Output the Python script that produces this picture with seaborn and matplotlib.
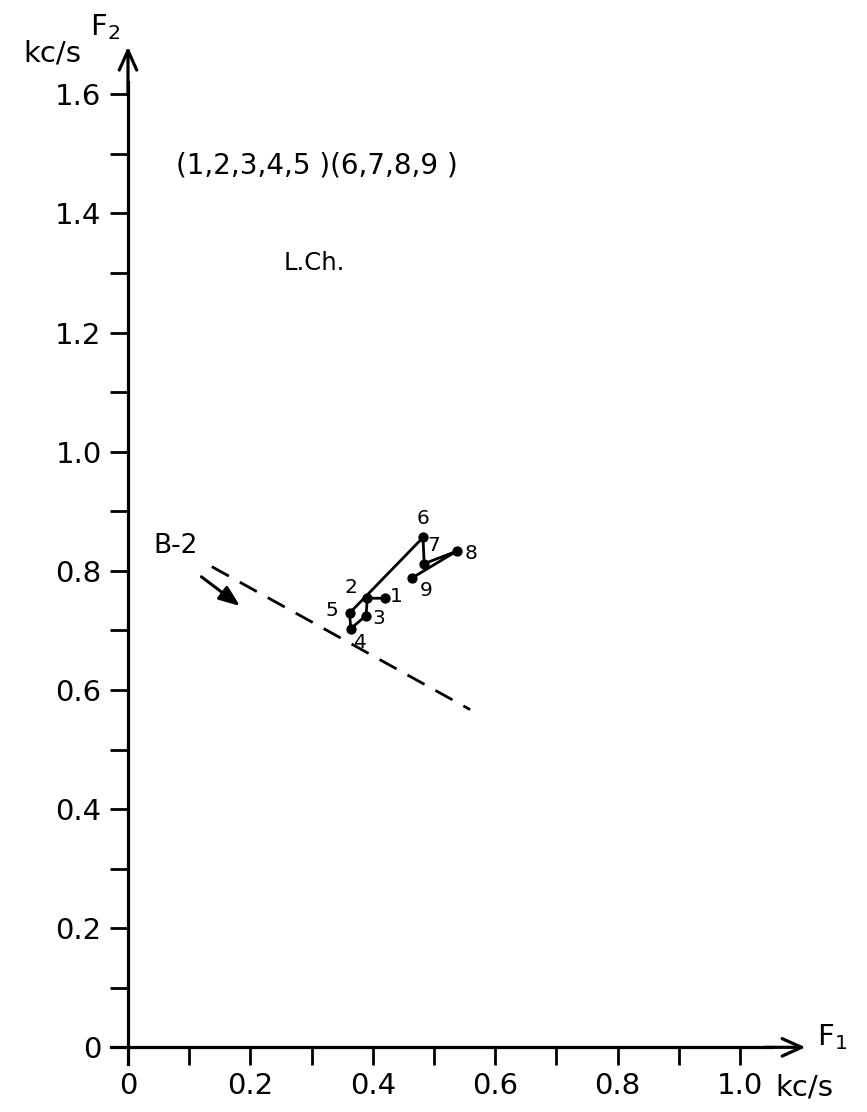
import matplotlib
matplotlib.use("Agg")
import matplotlib.pyplot as plt
import seaborn as sns
import pandas as pd
import numpy as np

# ---- data ----
point_ids = ["1", "2", "3", "4", "5", "6", "7", "8", "9"]
f1_values = [0.420, 0.391, 0.389, 0.364, 0.362, 0.482, 0.484, 0.537, 0.464]
f2_values = [0.754, 0.754, 0.725, 0.703, 0.729, 0.856, 0.812, 0.833, 0.788]
# label offsets (pixels) for point numbers
label_dx = [11, -16, 13, 10, -18, 0, 10, 14, 14]
label_dy = [2, 11, -3, -14, 3, 19, 18, -2, -13]

b2_line_f1 = [0.137, 0.559]
b2_line_f2 = [0.807, 0.567]
b2_arrow_start = (0.120, 0.790)
b2_arrow_end = (0.183, 0.741)

x_ticks = [0.0, 0.1, 0.2, 0.3, 0.4, 0.5, 0.6, 0.7, 0.8, 0.9, 1.0]
x_tick_labels = ["0", "", "0.2", "", "0.4", "", "0.6", "", "0.8", "", "1.0"]
y_ticks = [0.0, 0.1, 0.2, 0.3, 0.4, 0.5, 0.6, 0.7, 0.8, 0.9, 1.0, 1.1, 1.2, 1.3, 1.4, 1.5, 1.6]
y_tick_labels = ["0", "", "0.2", "", "0.4", "", "0.6", "", "0.8", "", "1.0", "", "1.2", "", "1.4", "", "1.6"]

df = pd.DataFrame({"id": point_ids, "F1": f1_values, "F2": f2_values})

sns.set_theme(style="white")
plt.rcParams["font.family"] = ["DejaVu Sans"]
plt.rcParams["text.color"] = "black"
plt.rcParams["xtick.color"] = "black"
plt.rcParams["ytick.color"] = "black"

fig = plt.figure(figsize=(8.67, 11.12), dpi=100)
ax = fig.add_axes([5.6 / 867, 5.1 / 1112, 856.8 / 867, 1101.9 / 1112])
ax.set_xlim(-0.2, 1.2)
ax.set_ylim(-0.1, 1.75)
ax.patch.set_alpha(0)

# trajectory
sns.lineplot(data=df, x="F1", y="F2", sort=False, estimator=None, ax=ax,
             color="black", linewidth=2.0)
sns.scatterplot(data=df, x="F1", y="F2", ax=ax, color="black", s=55,
                edgecolor="black", linewidth=0, zorder=5)
for pid, x, y, dx, dy in zip(point_ids, f1_values, f2_values, label_dx, label_dy):
    ax.annotate(pid, (x, y), xytext=(dx, dy), textcoords="offset pixels",
                ha="center", va="center", fontsize=14.5, color="black")

# B-2 dashed line and arrow
ax.plot(b2_line_f1, b2_line_f2, color="black", linewidth=2.0,
        linestyle=(0, (7, 4.5)))
ax.annotate("", xy=b2_arrow_end, xytext=b2_arrow_start,
            arrowprops=dict(arrowstyle="-|>,head_length=0.9,head_width=0.35",
                            color="black", lw=2.2, mutation_scale=14,
                            shrinkA=0, shrinkB=0))
ax.text(0.041, 0.841, "B-2", fontsize=19, ha="left", va="center")

# annotations
ax.text(0.308, 1.480, "(1,2,3,4,5 )(6,7,8,9 )", fontsize=20, ha="center",
        va="center")
ax.text(0.304, 1.317, "L.Ch.", fontsize=17.5, ha="center", va="center")

# axes
for s in ["top", "right"]:
    ax.spines[s].set_visible(False)
ax.spines["left"].set_position(("data", 0))
ax.spines["bottom"].set_position(("data", 0))
ax.spines["left"].set_bounds(-0.028, 1.62)
ax.spines["bottom"].set_bounds(-0.027, 1.05)
for s in ["left", "bottom"]:
    ax.spines[s].set_linewidth(2.3)
    ax.spines[s].set_color("black")

arrow_kw = dict(arrowstyle="->,head_length=1.0,head_width=0.45", color="black",
                lw=2.3, mutation_scale=14, shrinkA=0, shrinkB=0)
ax.annotate("", xy=(0, 1.68), xytext=(0, 1.6), arrowprops=arrow_kw)
ax.annotate("", xy=(1.107, 0), xytext=(1.04, 0), arrowprops=arrow_kw)

ax.set_xticks(x_ticks)
ax.set_xticklabels(x_tick_labels)
ax.set_yticks(y_ticks)
ax.set_yticklabels(y_tick_labels)
ax.tick_params(axis="both", which="major", direction="out", length=13, width=2.0,
               labelsize=21, color="black", labelcolor="black",
               bottom=True, left=True)
ax.tick_params(axis="x", pad=5)
ax.tick_params(axis="y", pad=6)
ax.set_xlabel("")
ax.set_ylabel("")

ax.text(1.057, -0.068, "kc/s", fontsize=21, ha="left", va="center")
ax.text(-0.124, 1.668, "kc/s", fontsize=21, ha="center", va="center")
ax.text(-0.038, 1.713, "F$_2$", fontsize=21, ha="center", va="center")
ax.text(1.150, 0.018, "F$_1$", fontsize=21, ha="center", va="center")

fig.savefig("out.png", dpi=100)
